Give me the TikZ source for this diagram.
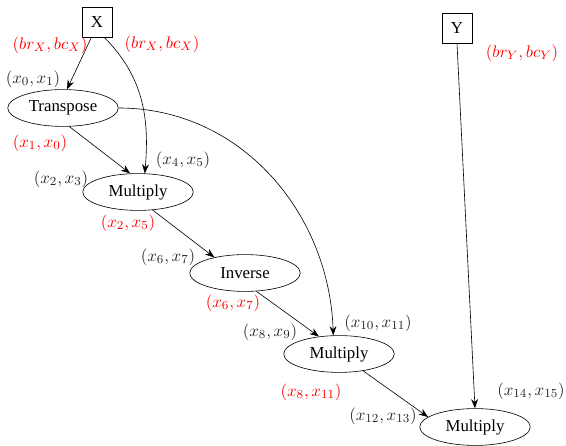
\documentclass[11pt,tikz,border=0pt]{standalone}
\usepackage[no-math]{fontspec}
\setmainfont{Liberation Serif}
\usetikzlibrary{arrows.meta,shapes.geometric}

\begin{document}
\begin{tikzpicture}[x=0.0229cm,y=0.0229cm]
\useasboundingbox (0,0) rectangle (566,446);
\begin{scope}[every node/.style={rectangle,draw,minimum size=19.5pt,inner sep=1pt}]
    \node (X) at (97,424) {X};
    \node (Y) at (457,418) {Y};
\end{scope}
\begin{scope}[every node/.style={ellipse,draw,minimum width=72pt,minimum height=24pt,inner sep=1pt}]
    \node (T) at (63,338) {Transpose};
    \node (M1) at (138,254) {Multiply};
    \node (I) at (245,173) {Inverse};
    \node (M2) at (339,92) {Multiply};
    \node (M3) at (475,19) {Multiply};
\end{scope}
\begin{scope}[every node/.style={text=red,inner sep=0pt}]
    \node (RX1) at (50,401) {$(br_X,bc_X)$};
    \node (RX2) at (162,402) {$(br_X,bc_X)$};
    \node (RY) at (522,393) {$(br_Y,bc_Y)$};
    \node (RT) at (40,303) {$(x_1,x_0)$};
    \node (RM1) at (128,223) {$(x_2,x_5)$};
    \node (RI) at (233,143) {$(x_6,x_7)$};
    \node (RM2) at (311,54) {$(x_8,x_{11})$};
\end{scope}
\begin{scope}[every node/.style={text=black!85,inner sep=0pt}]
    \node (BT) at (33,367) {$(x_0,x_1)$};
    \node (BM1a) at (61,267) {$(x_2,x_3)$};
    \node (BM1b) at (183,286) {$(x_4,x_5)$};
    \node (BI) at (168,189) {$(x_6,x_7)$};
    \node (BM2a) at (270,114) {$(x_8,x_9)$};
    \node (BM2b) at (378,123) {$(x_{10},x_{11})$};
    \node (BM3a) at (383,30) {$(x_{12},x_{13})$};
    \node (BM3b) at (531,55) {$(x_{14},x_{15})$};
\end{scope}
\begin{scope}[>={Stealth[length=6pt,width=4.5pt]}]
    \path [->] (X.-110) edge (T.78);
    \path [->] (X.-65) edge [out=-45,in=85] (M1.70);
    \path [->] (T.-71) edge (M1.113);
    \path [->] (T.east) edge [out=0,in=92] (M2.107);
    \path [->] (M1.-51) edge (I.153);
    \path [->] (I.-58) edge (M2.139);
    \path [->] (M2.-35) edge (M3.168);
    \path [->] (Y.south) edge (M3.north);
\end{scope}
\end{tikzpicture}
\end{document}
